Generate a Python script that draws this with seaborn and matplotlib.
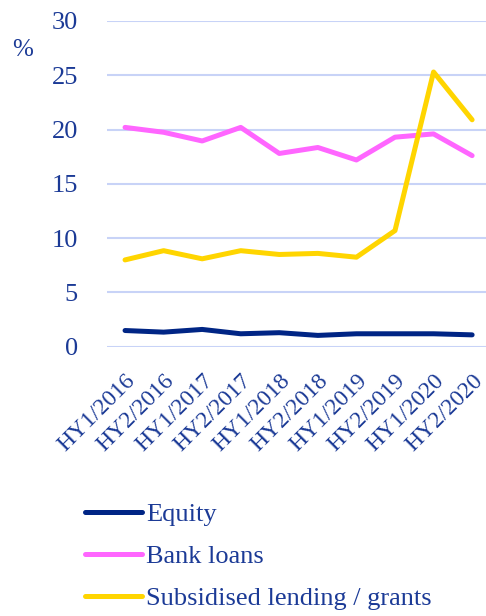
import pandas as pd
import seaborn as sns
import matplotlib.pyplot as plt

# Half-year periods
periods = ["HY1/2016", "HY2/2016", "HY1/2017", "HY2/2017", "HY1/2018",
           "HY2/2018", "HY1/2019", "HY2/2019", "HY1/2020", "HY2/2020"]

# Shares in percent
equity = [1.5, 1.35, 1.6, 1.2, 1.3, 1.05, 1.2, 1.2, 1.2, 1.1]
bank_loans = [20.2, 19.75, 18.95, 20.2, 17.8, 18.35, 17.2, 19.3, 19.6, 17.6]
subsidised = [8.0, 8.85, 8.1, 8.85, 8.5, 8.6, 8.25, 10.7, 25.3, 20.9]

series = ["Equity", "Bank loans", "Subsidised lending / grants"]
colors = {"Equity": "#002585", "Bank loans": "#ff66ff",
          "Subsidised lending / grants": "#ffd500"}

df = pd.DataFrame({"period": periods * 3,
                   "x": list(range(len(periods))) * 3,
                   "value": equity + bank_loans + subsidised,
                   "series": [s for s in series for _ in periods]})

sns.set_style("white")
plt.rcParams['font.family'] = ['Liberation Serif', 'DejaVu Serif']
text_color = "#1b3a96"

fig = plt.figure(figsize=(4.86, 6.16), dpi=100)
ax = fig.add_axes([0.22, 0.437, 0.78, 0.529])

sns.lineplot(data=df, x="x", y="value", hue="series", palette=colors,
             linewidth=3.6, ax=ax, legend=False)

ax.set_ylim(0, 30)
ax.set_xlim(-0.47, 9.36)
ax.set_yticks(range(0, 31, 5))
ax.set_xticks(range(len(periods)))
ax.set_xticklabels(periods, rotation=45, ha="right", rotation_mode="anchor")
ax.grid(axis="y", color="#c8d3f7", linewidth=1.5)
ax.set_axisbelow(True)
for s in ax.spines.values():
    s.set_visible(False)
ax.tick_params(axis="both", length=0, colors=text_color)
ax.tick_params(axis="y", pad=21, labelsize=19)
ax.tick_params(axis="x", pad=17, labelsize=17)
ax.set_xlabel("")
ax.set_ylabel("")

fig.text(0.025, 0.919, "%", fontsize=18, color=text_color, va="center")

handles = [plt.Line2D([], [], color=colors[s], linewidth=3.6) for s in series]
fig.legend(handles, series, loc="upper left", bbox_to_anchor=(0.175, 0.184),
           frameon=False, fontsize=19, labelcolor=text_color,
           handlelength=2.15, handletextpad=0.15, labelspacing=0.7,
           borderpad=0, borderaxespad=0)

plt.savefig("out.png", dpi=100)
